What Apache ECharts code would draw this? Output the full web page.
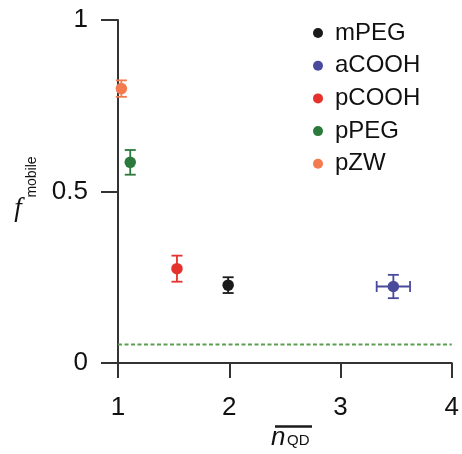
<!DOCTYPE html>
<html>
<head>
<meta charset="utf-8">
<script src="https://cdn.jsdelivr.net/npm/echarts@6/dist/echarts.min.js"></script>
<style>html,body{margin:0;padding:0;background:#fff}#c{width:462px;height:454px}</style>
</head>
<body>
<div id="c"></div>
<script>
// ---- data ----
var seriesNames = ['mPEG', 'aCOOH', 'pCOOH', 'pPEG', 'pZW'];
var seriesColors = ['#1a1a1a', '#4a4a9c', '#e6322d', '#2b7a3b', '#f27b4f'];
var xValues = [1.99, 3.475, 1.53, 1.11, 1.03];
var yValues = [0.227, 0.223, 0.275, 0.585, 0.800];
var xErrors = [0, 0.15, 0, 0, 0];
var yErrors = [0.023, 0.034, 0.038, 0.036, 0.024];
var baselineY = 0.054;
var baselineX = [1, 4];
var xTicks = [1, 2, 3, 4];
var yTicks = [0, 0.5, 1];

var axisColor = '#333333';
var fontSans = 'Liberation Sans, Arial, sans-serif';

var series = [];
// baseline dashed
series.push({
  type: 'line', silent: true, symbol: 'none',
  data: baselineX.map(function (x) { return [x, baselineY]; }),
  lineStyle: { color: '#5a9e4e', width: 2, type: [4, 2.5] },
  z: 1
});
seriesNames.forEach(function (name, i) {
  series.push({
    type: 'custom', silent: true,
    data: [[xValues[i], yValues[i], xErrors[i], yErrors[i]]],
    renderItem: function (params, api) {
      var x = api.value(0), y = api.value(1), xe = api.value(2), ye = api.value(3);
      var cap = 5.5;
      var st = { stroke: seriesColors[i], lineWidth: 1.8 };
      var children = [];
      var top = api.coord([x, y + ye]);
      var bot = api.coord([x, y - ye]);
      children.push({ type: 'line', shape: { x1: top[0], y1: top[1], x2: bot[0], y2: bot[1] }, style: st });
      children.push({ type: 'line', shape: { x1: top[0] - cap, y1: top[1], x2: top[0] + cap, y2: top[1] }, style: st });
      children.push({ type: 'line', shape: { x1: bot[0] - cap, y1: bot[1], x2: bot[0] + cap, y2: bot[1] }, style: st });
      if (xe > 0) {
        var l = api.coord([x - xe, y]);
        var r = api.coord([x + xe, y]);
        children.push({ type: 'line', shape: { x1: l[0], y1: l[1], x2: r[0], y2: r[1] }, style: st });
        children.push({ type: 'line', shape: { x1: l[0], y1: l[1] - cap, x2: l[0], y2: l[1] + cap }, style: st });
        children.push({ type: 'line', shape: { x1: r[0], y1: r[1] - cap, x2: r[0], y2: r[1] + cap }, style: st });
      }
      return { type: 'group', children: children };
    },
    z: 2
  });
  series.push({
    type: 'scatter', name: name,
    data: [[xValues[i], yValues[i]]],
    symbol: 'circle', symbolSize: 11.5,
    itemStyle: { color: seriesColors[i], opacity: 1 },
    z: 3
  });
});

var chart = echarts.init(document.getElementById('c'), null, { renderer: 'canvas' });
chart.setOption({
  animation: false,
  backgroundColor: '#ffffff',
  grid: { left: 118, right: 8, top: 20, bottom: 91 },
  xAxis: {
    type: 'value', min: xTicks[0], max: xTicks[xTicks.length - 1], interval: 1,
    axisLine: { onZero: false, lineStyle: { color: axisColor, width: 2 } },
    axisTick: { length: 15, lineStyle: { color: axisColor, width: 2 } },
    axisLabel: { color: '#111111', fontSize: 26, fontFamily: fontSans, margin: 32 },
    splitLine: { show: false }
  },
  yAxis: {
    type: 'value', min: yTicks[0], max: yTicks[yTicks.length - 1], interval: 0.5,
    axisLine: { onZero: false, lineStyle: { color: axisColor, width: 2 } },
    axisTick: { length: 17, lineStyle: { color: axisColor, width: 2 } },
    axisLabel: { color: '#111111', fontSize: 26, fontFamily: fontSans, margin: 30 },
    splitLine: { show: false }
  },
  legend: {
    data: seriesNames,
    orient: 'vertical', left: 308, top: 16,
    icon: 'circle', itemWidth: 10, itemHeight: 10, itemGap: 8.7,
    textStyle: { fontSize: 24, fontFamily: fontSans, color: '#111111', lineHeight: 24, padding: [0, 0, 0, 7] }
  },
  graphic: [
    { type: 'line', shape: { x1: 275, y1: 426.5, x2: 312, y2: 426.5 }, style: { stroke: '#1a1a1a', lineWidth: 2.5 } },
    { type: 'text', x: 271, y: 438, style: { text: 'n', fill: '#111111', font: 'italic 26px ' + fontSans, verticalAlign: 'middle', align: 'left' } },
    { type: 'text', x: 287, y: 441, style: { text: 'QD', fill: '#111111', font: '15px ' + fontSans, verticalAlign: 'middle', align: 'left' } },
    { type: 'text', x: 18, y: 209, style: { text: 'f', fill: '#111111', font: 'italic 27px Liberation Serif, DejaVu Serif, serif', verticalAlign: 'middle', align: 'center' } },
    { type: 'text', x: 32, y: 177, rotation: Math.PI / 2, style: { text: 'mobile', fill: '#111111', font: '14px ' + fontSans, verticalAlign: 'middle', align: 'center' } }
  ],
  series: series
});
</script>
</body>
</html>
